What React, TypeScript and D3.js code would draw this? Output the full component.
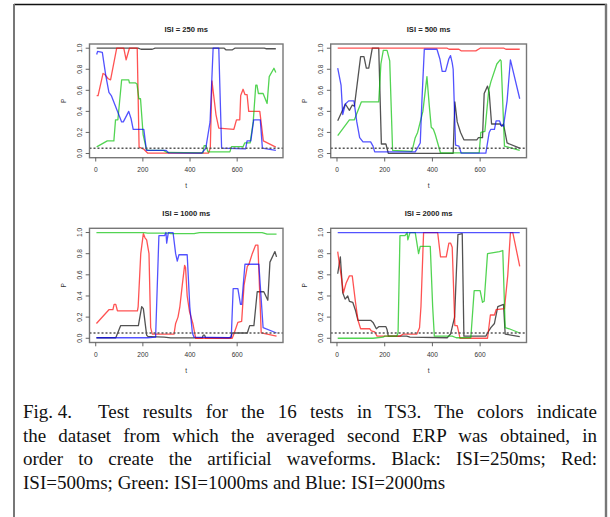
import React, { useLayoutEffect, useRef } from "react";
import * as d3 from "d3";

type Pt = [number, number];

const panelTitles = ["ISI = 250 ms", "ISI = 500 ms", "ISI = 1000 ms", "ISI = 2000 ms"];
const xTicks = [0, 200, 400, 600];
const yTicks = [0, 0.2, 0.4, 0.6, 0.8, 1.0];
const yTickLabels = ["0.0", "0.2", "0.4", "0.6", "0.8", "1.0"];
const threshold = 0.05;
const seriesNames = ["black", "red", "green", "blue"];
const seriesColors = ["#000000", "#ff0000", "#00c000", "#0000ff"];

// ISI = 250 ms
const p1Black: Pt[] = [[4,1],[180,1],[192,0.99],[240,0.99],[252,1],[545,1],[552,0.985],[580,0.985],[590,1],[715,1],[722,0.995],[764,0.995]];
const p1Red: Pt[] = [[4,0.55],[10,0.55],[31,0.76],[39,0.75],[53,0.71],[63,0.70],[89,1.0],[119,1.0],[129,0.89],[143,1.0],[176,1.0],[184,0.06],[204,0.04],[221,0.003],[478,0.003],[486,0.05],[493,0.69],[510,0.37],[522,0.24],[586,0.23],[597,0.32],[611,0.32],[615,0.55],[625,0.61],[633,0.56],[642,0.56],[649,0.40],[696,0.40],[711,0.12],[764,0.06]];
const p1Green: Pt[] = [[4,0.063],[49,0.12],[77,0.12],[84,0.32],[94,0.32],[110,0.70],[140,0.70],[143,0.67],[169,0.67],[175,0.66],[183,0.52],[190,0.52],[201,0.18],[215,0.04],[221,0.03],[288,0.03],[302,0.01],[455,0.005],[460,0.075],[468,0.075],[476,0.015],[569,0.015],[576,0.065],[625,0.065],[632,0.10],[655,0.10],[668,0.30],[679,0.65],[684,0.65],[690,0.57],[710,0.57],[727,0.475],[736,0.73],[756,0.81],[764,0.77]];
const p1Blue: Pt[] = [[4,0.94],[8,0.97],[28,0.96],[42,0.75],[56,0.58],[66,0.55],[110,0.30],[117,0.30],[140,0.40],[150,0.33],[159,0.23],[204,0.23],[215,0.03],[299,0.03],[309,0.005],[450,0.003],[467,0.05],[485,0.30],[498,1.0],[522,1.0],[534,0.05],[636,0.045],[642,0.12],[658,0.12],[670,0.32],[698,0.32],[707,0.05],[764,0.03]];

// ISI = 500 ms
const p2Black: Pt[] = [[3,0.31],[17,0.38],[35,0.47],[52,0.41],[64,0.46],[73,0.45],[99,0.92],[113,0.92],[123,0.81],[133,0.81],[148,1.0],[175,1.0],[186,0.09],[205,0.09],[215,0.002],[487,0.002],[494,0.49],[504,0.30],[518,0.20],[532,0.13],[586,0.13],[593,0.15],[610,0.15],[617,0.57],[631,0.64],[638,0.58],[648,0.28],[684,0.28],[690,0.26],[698,0.28],[713,0.10],[766,0.05]];
const p2Red: Pt[] = [[3,1],[462,1],[470,0.99],[511,0.99],[520,0.975],[582,0.975],[600,1.0],[700,1.0],[708,0.99],[766,0.99]];
const p2Green: Pt[] = [[3,0.17],[52,0.32],[73,0.32],[83,0.38],[102,0.49],[175,0.49],[184,0.85],[194,0.98],[210,0.98],[221,0.88],[233,0.03],[314,0.02],[328,0.15],[338,0.20],[360,0.40],[377,0.73],[387,0.45],[395,0.25],[404,0.23],[412,0.18],[434,0.005],[596,0.005],[603,0.20],[620,0.21],[636,0.60],[645,0.68],[670,0.85],[684,0.89],[688,0.88],[702,0.07],[766,0.03]];
const p2Blue: Pt[] = [[3,0.81],[17,0.65],[24,0.37],[35,0.47],[49,0.50],[71,0.50],[83,0.30],[95,0.15],[109,0.11],[141,0.11],[151,0.07],[158,0.015],[328,0.015],[349,0.10],[356,0.50],[366,0.99],[419,0.99],[431,0.90],[441,0.78],[455,0.78],[469,0.90],[476,0.93],[483,0.86],[487,0.80],[497,0.08],[511,0.07],[521,0.003],[624,0.003],[638,0.20],[645,0.23],[660,0.23],[667,0.31],[681,0.31],[688,0.27],[698,0.26],[713,0.50],[727,0.89],[766,0.52]];

// ISI = 1000 ms
const p3Black: Pt[] = [[3,0.005],[85,0.005],[106,0.12],[181,0.12],[195,0.30],[202,0.28],[216,0.03],[222,0.015],[233,0.015],[290,0.01],[318,0.003],[452,0.003],[456,0.03],[462,0.03],[466,0.003],[572,0.003],[579,0.05],[643,0.05],[653,0.12],[671,0.12],[685,0.44],[713,0.44],[730,0.36],[739,0.72],[760,0.82],[767,0.77]];
const p3Red: Pt[] = [[3,0.14],[56,0.27],[73,0.27],[78,0.32],[85,0.32],[92,0.26],[177,0.26],[180,0.30],[191,0.80],[202,0.99],[209,0.95],[216,0.93],[226,0.80],[233,0.10],[240,0.04],[332,0.04],[339,0.14],[349,0.20],[357,0.30],[367,0.50],[377,0.69],[381,0.67],[388,0.40],[398,0.25],[412,0.14],[424,0.0],[579,0.0],[586,0.04],[603,0.15],[619,0.16],[629,0.50],[643,0.68],[650,0.70],[664,0.80],[678,0.88],[688,0.88],[702,0.05],[767,0.02]];
const p3Green: Pt[] = [[3,1],[205,1],[220,0.995],[310,0.995],[318,0.99],[417,0.99],[440,1.0],[706,1.0],[727,0.985],[767,0.985]];
const p3Blue: Pt[] = [[3,0.005],[219,0.005],[254,0.01],[268,0.97],[292,0.97],[298,1.0],[301,0.90],[308,1.0],[328,1.0],[339,0.80],[346,0.73],[353,0.79],[388,0.79],[399,0.30],[410,0.05],[417,0.01],[565,0.005],[575,0.01],[583,0.47],[603,0.47],[614,0.32],[619,0.32],[633,0.70],[692,0.70],[710,0.10],[767,0.05]];

// ISI = 2000 ms
const p4Black: Pt[] = [[3,0.61],[14,0.77],[24,0.43],[34,0.37],[45,0.40],[52,0.35],[66,0.34],[78,0.26],[88,0.17],[141,0.17],[151,0.15],[165,0.09],[175,0.11],[205,0.11],[210,0.08],[215,0.02],[292,0.02],[306,0.01],[462,0.005],[476,0.04],[493,0.20],[500,0.60],[507,0.98],[525,0.99],[532,0.02],[624,0.02],[631,0.05],[645,0.10],[660,0.14],[674,0.30],[698,0.32],[705,0.04],[766,0.015]];
const p4Red: Pt[] = [[3,0.82],[10,0.70],[17,0.60],[27,0.43],[38,0.52],[52,0.59],[64,0.59],[77,0.35],[88,0.17],[99,0.09],[137,0.09],[144,0.07],[158,0.06],[168,0.02],[264,0.02],[278,0.04],[335,0.04],[346,0.10],[352,0.30],[363,1.0],[422,1.0],[434,0.77],[458,0.77],[469,0.90],[476,0.90],[483,0.86],[494,0.12],[504,0.12],[516,0.0],[631,0.0],[643,0.22],[660,0.22],[667,0.27],[702,0.28],[716,0.60],[727,1.0],[737,1.0],[766,0.68]];
const p4Green: Pt[] = [[3,0.0],[151,0.0],[193,0.01],[200,0.02],[250,0.02],[256,0.05],[264,0.97],[285,0.97],[294,1.0],[297,0.93],[306,1.0],[328,1.0],[342,0.80],[349,0.87],[391,0.87],[401,0.30],[408,0.02],[483,0.02],[500,0.005],[561,0.005],[575,0.45],[600,0.45],[610,0.34],[617,0.35],[631,0.80],[681,0.82],[695,0.83],[705,0.10],[722,0.09],[766,0.05]];
const p4Blue: Pt[] = [[3,1],[766,1]];

const panelSeries: Pt[][][] = [
  [p1Black, p1Red, p1Green, p1Blue],
  [p2Black, p2Red, p2Green, p2Blue],
  [p3Black, p3Red, p3Green, p3Blue],
  [p4Black, p4Red, p4Green, p4Blue],
];

const captionLines = [
  "Test results for the 16 tests in TS3. The colors indicate",
  "the dataset from which the averaged second ERP was obtained, in",
  "order to create the artificial waveforms. Black: ISI=250ms; Red:",
  "ISI=500ms; Green: ISI=1000ms and Blue: ISI=2000ms",
];
const captionLabel = "Fig. 4.";

const W = 610;
const H = 517;
const cols = [
  { left: 89.5, right: 283 },
  { left: 330.7, right: 526.5 },
];
const rows = [
  { top: 44, bottom: 157.7 },
  { top: 228.3, bottom: 342.5 },
];
const sansFont = "'Liberation Sans', Arial, Helvetica, sans-serif";
const serifFont = "'Liberation Serif', 'Times New Roman', Times, serif";

function Panel({ idx }: { idx: number }) {
  const col = cols[idx % 2];
  const row = rows[Math.floor(idx / 2)];
  const x = d3.scaleLinear().domain([-26.4, 794.4]).range([col.left, col.right]);
  const y = d3.scaleLinear().domain([-0.04, 1.04]).range([row.bottom, row.top]);
  const line = d3
    .line<Pt>()
    .x((d) => x(d[0]))
    .y((d) => y(d[1]));
  const cx = (col.left + col.right) / 2;
  const cy = (row.top + row.bottom) / 2;
  const axisColor = "#555";
  const textColor = "#333";
  return (
    <g>
      <text
        x={cx}
        y={row.top - 12.5}
        textAnchor="middle"
        fontFamily={sansFont}
        fontWeight="bold"
        fontSize={7.6}
        fill="#222"
      >
        {panelTitles[idx]}
      </text>
      {panelSeries[idx].map((s, i) => (
        <path
          key={seriesNames[i]}
          d={line(s) || ""}
          fill="none"
          stroke={seriesColors[i]}
          strokeOpacity={0.68}
          strokeWidth={1.3}
          strokeLinejoin="round"
        />
      ))}
      <line
        x1={col.left}
        x2={col.right}
        y1={y(threshold)}
        y2={y(threshold)}
        stroke="#555"
        strokeWidth={1.3}
        strokeDasharray="2,2"
      />
      <rect
        x={col.left}
        y={row.top}
        width={col.right - col.left}
        height={row.bottom - row.top}
        fill="none"
        stroke="#777"
        strokeWidth={1.4}
      />
      {xTicks.map((t) => (
        <g key={"x" + t}>
          <line x1={x(t)} x2={x(t)} y1={row.bottom} y2={row.bottom + 3.8} stroke={axisColor} strokeWidth={0.9} />
          <text
            x={x(t)}
            y={row.bottom + 14.5}
            textAnchor="middle"
            fontFamily={sansFont}
            fontSize={6.6}
            fill={textColor}
          >
            {t}
          </text>
        </g>
      ))}
      {yTicks.map((v, i) => (
        <g key={"y" + v}>
          <line x1={col.left} x2={col.left - 3.8} y1={y(v)} y2={y(v)} stroke={axisColor} strokeWidth={0.9} />
          <text
            transform={`translate(${col.left - 7.5},${y(v)}) rotate(-90)`}
            textAnchor="middle"
            fontFamily={sansFont}
            fontSize={6.6}
            fill={textColor}
          >
            {yTickLabels[i]}
          </text>
        </g>
      ))}
      <text
        x={cx}
        y={row.bottom + 30}
        textAnchor="middle"
        fontFamily={sansFont}
        fontSize={6.6}
        fill={textColor}
      >
        t
      </text>
      <text
        transform={`translate(${col.left - 24},${cy}) rotate(-90)`}
        textAnchor="middle"
        fontFamily={sansFont}
        fontSize={6.6}
        fill={textColor}
      >
        P
      </text>
    </g>
  );
}

function Caption() {
  const refs = useRef<(SVGTextElement | null)[]>([]);
  const left = 23;
  const right = 597;
  const firstStart = 98;
  const baselines = [418, 441.5, 465, 488.5];
  useLayoutEffect(() => {
    refs.current.forEach((el, i) => {
      if (!el || i === captionLines.length - 1) return;
      const start = i === 0 ? firstStart : left;
      const target = right - start;
      el.style.wordSpacing = "0px";
      const natural = el.getComputedTextLength();
      const spaces = (captionLines[i].match(/ /g) || []).length;
      if (spaces > 0) {
        el.style.wordSpacing = `${(target - natural) / spaces}px`;
      }
    });
  }, []);
  return (
    <g fontFamily={serifFont} fontSize={19} fill="#111">
      <text x={left} y={baselines[0]}>
        {captionLabel}
      </text>
      {captionLines.map((l, i) => (
        <text
          key={i}
          ref={(el) => {
            refs.current[i] = el;
          }}
          x={i === 0 ? firstStart : left}
          y={baselines[i]}
        >
          {l}
        </text>
      ))}
    </g>
  );
}

export default function App() {
  return (
    <svg
      width={W}
      height={H}
      style={{ position: "absolute", left: 0, top: 0, background: "#fff" }}
    >
      <rect x={0} y={0} width={W} height={H} fill="#fff" />
      <line x1={14} x2={607} y1={4.5} y2={4.5} stroke="#111" strokeWidth={1.3} />
      <line x1={14} x2={14} y1={4} y2={H} stroke="#777" strokeWidth={2} />
      <line x1={606} x2={606} y1={4} y2={H} stroke="#777" strokeWidth={2.4} />
      {[0, 1, 2, 3].map((i) => (
        <Panel key={i} idx={i} />
      ))}
      <Caption />
    </svg>
  );
}
